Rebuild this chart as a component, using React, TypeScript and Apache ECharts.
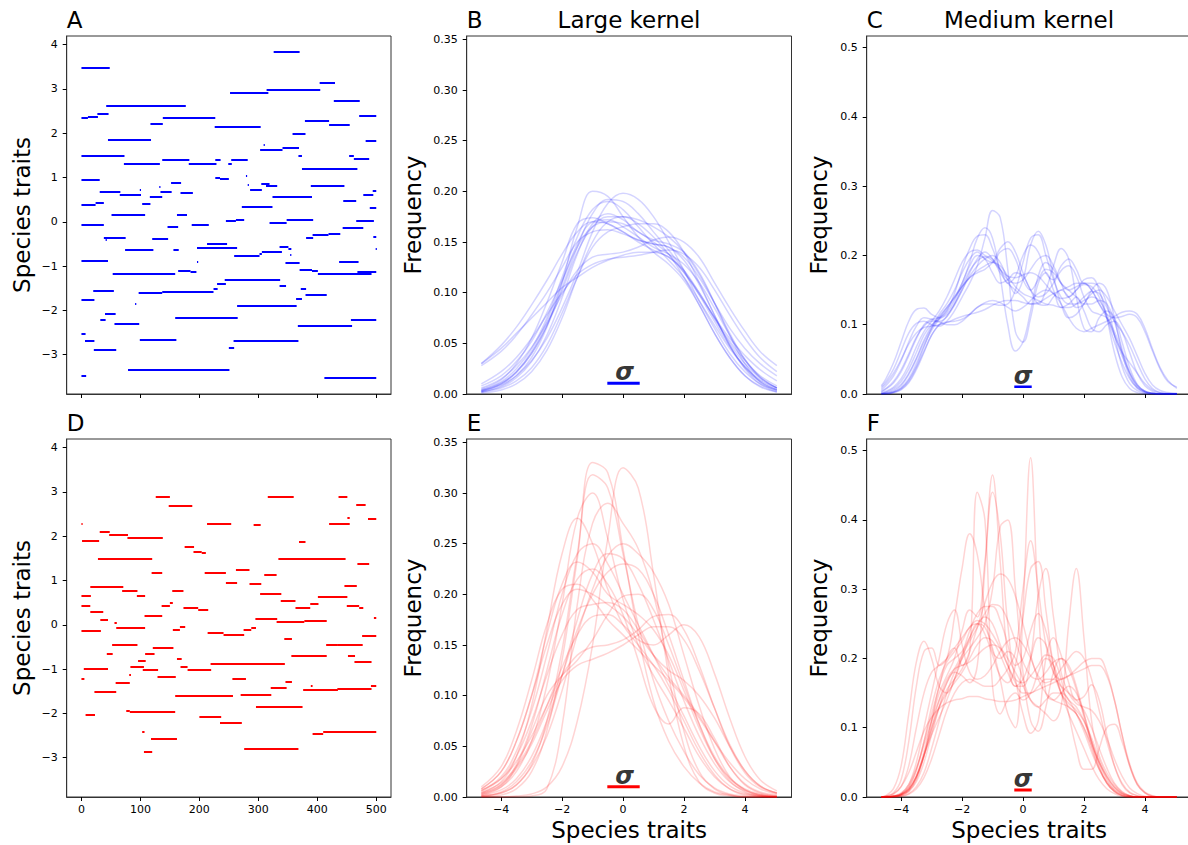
import React, { useEffect, useRef } from "react";
import * as echarts from "echarts";

const FONT = "DejaVu Sans";

// ---------- Panel A / D : lineage trait segments [tStart, tEnd, trait] ----------
const segA = [
  [0,48,3.47],[326,370,3.83],[0,11,2.35],[11,28,2.37],[27,46,2.43],[42,177,2.61],[117,138,2.21],[138,227,2.35],
  [252,317,2.92],[314,405,2.98],[404,430,3.14],[428,472,2.74],[471,500,2.39],[379,420,2.29],[420,455,2.20],
  [226,304,2.14],[358,380,1.98],[482,500,1.83],[45,118,1.86],[309,311,1.74],[303,341,1.62],[341,369,1.68],
  [0,73,1.49],[72,133,1.32],[137,183,1.41],[182,229,1.30],[227,236,1.40],[249,255,1.32],[254,282,1.41],
  [368,374,1.49],[374,468,1.20],[454,462,1.49],[462,488,1.43],[0,31,0.95],[152,169,0.89],[227,235,1.00],
  [235,250,0.97],[279,281,1.05],[282,284,0.83],[286,306,0.73],[305,319,0.86],[313,332,0.81],[389,446,0.82],
  [31,66,0.69],[65,101,0.61],[99,101,0.72],[132,134,0.80],[116,137,0.56],[134,153,0.69],[168,189,0.66],
  [324,391,0.56],[444,466,0.47],[478,495,0.62],[494,500,0.71],[489,500,0.31],[0,24,0.38],[24,38,0.42],
  [103,117,0.41],[51,108,0.17],[162,179,0.17],[272,324,0.33],[0,38,-0.06],[146,164,-0.12],[187,216,-0.06],
  [245,262,0.02],[262,276,0.04],[319,348,-0.02],[348,393,0.05],[466,496,0.02],[443,478,-0.13],[38,75,-0.35],
  [41,43,-0.41],[120,147,-0.38],[74,122,-0.62],[156,165,-0.64],[196,264,-0.59],[213,247,-0.50],[259,302,-0.77],
  [302,306,-0.73],[306,340,-0.67],[336,351,-0.56],[351,356,-0.60],[354,356,-0.74],[381,393,-0.36],[392,419,-0.30],
  [419,439,-0.26],[495,500,-0.34],[499,501,-0.61],[0,45,-0.88],[196,198,-0.91],[53,159,-1.17],[164,185,-1.11],
  [185,195,-1.13],[243,337,-1.31],[346,370,-0.92],[370,391,-1.08],[391,401,-1.11],[401,492,-1.17],[437,470,-0.91],
  [468,500,-1.13],[336,347,-1.45],[230,245,-1.40],[224,231,-1.50],[97,137,-1.59],[137,224,-1.58],[20,55,-1.56],
  [0,22,-1.77],[91,93,-1.86],[372,381,-1.50],[364,374,-1.74],[380,416,-1.65],[264,365,-1.89],[40,58,-2.08],
  [32,41,-2.20],[56,98,-2.31],[159,265,-2.17],[367,459,-2.35],[457,500,-2.20],[0,7,-2.53],[6,22,-2.69],
  [21,59,-2.89],[99,161,-2.67],[250,259,-2.85],[258,368,-2.69],[79,251,-3.35],[0,8,-3.47],[412,500,-3.52]
];

const segD = [
  [0,2,2.28],[1,30,1.89],[31,48,2.11],[47,79,2.04],[78,138,1.96],[126,150,2.89],[148,188,2.68],[28,120,1.50],
  [175,191,1.76],[190,204,1.64],[204,211,1.62],[213,254,2.29],[292,304,2.26],[316,360,2.90],[436,451,2.90],
  [466,482,2.71],[451,455,2.42],[420,455,2.28],[486,500,2.39],[369,380,1.87],[334,448,1.50],[468,488,1.38],
  [119,137,1.17],[209,245,1.18],[262,285,1.24],[310,331,1.12],[245,264,0.96],[285,305,0.92],[446,467,0.88],
  [15,71,0.87],[69,95,0.78],[154,173,0.78],[94,108,0.66],[0,16,0.66],[303,339,0.70],[401,451,0.63],[0,15,0.44],
  [15,37,0.30],[136,150,0.44],[150,155,0.50],[173,198,0.38],[198,215,0.34],[338,363,0.54],[363,388,0.39],
  [388,402,0.48],[450,471,0.43],[471,478,0.39],[107,137,0.20],[32,45,0.11],[56,60,0.05],[0,33,-0.13],
  [59,108,-0.07],[155,167,-0.11],[167,176,-0.04],[295,332,0.14],[331,378,0.06],[378,416,0.09],[496,500,0.17],
  [214,241,-0.17],[241,276,-0.23],[275,288,-0.10],[288,296,-0.07],[344,357,-0.32],[476,500,-0.24],[52,95,-0.46],
  [121,156,-0.52],[415,435,-0.44],[435,477,-0.44],[43,53,-0.66],[108,124,-0.66],[96,109,-0.81],[162,170,-0.77],
  [356,416,-0.70],[452,464,-0.70],[463,492,-0.84],[4,45,-0.99],[83,106,-0.95],[104,130,-1.01],[168,180,-0.94],
  [180,220,-1.01],[219,345,-0.87],[0,5,-1.22],[81,84,-1.13],[58,82,-1.31],[129,160,-1.18],[256,279,-1.21],
  [22,59,-1.52],[159,257,-1.61],[270,322,-1.58],[321,348,-1.43],[346,357,-1.28],[389,392,-1.37],[376,435,-1.47],
  [434,492,-1.44],[491,500,-1.37],[296,375,-1.85],[7,23,-2.03],[76,82,-1.93],[82,159,-1.96],[200,237,-2.07],
  [235,272,-2.21],[103,107,-2.41],[118,162,-2.58],[106,120,-2.86],[276,368,-2.80],[392,410,-2.45],[410,500,-2.41]
];

// ---------- Large kernel curves (B / E) ----------
const largeX = [-4.65,-4,-3.5,-3,-2.5,-2,-1.5,-1,-0.5,0,0.5,1,1.5,2,2.5,3,3.5,4,4.5,5.05];

const curvesB = [
  [0.030,0.045,0.060,0.075,0.090,0.105,0.115,0.125,0.132,0.137,0.140,0.140,0.135,0.120,0.100,0.075,0.052,0.033,0.018,0.008],
  [0.030,0.048,0.066,0.088,0.112,0.138,0.160,0.170,0.168,0.160,0.150,0.142,0.135,0.122,0.100,0.075,0.050,0.030,0.016,0.006],
  [0.028,0.042,0.058,0.078,0.100,0.125,0.150,0.160,0.162,0.158,0.152,0.148,0.145,0.135,0.115,0.090,0.065,0.045,0.030,0.018],
  [0.005,0.014,0.030,0.055,0.090,0.130,0.168,0.174,0.168,0.160,0.152,0.148,0.145,0.132,0.108,0.078,0.048,0.025,0.010,0.003],
  [0.002,0.008,0.018,0.036,0.066,0.110,0.165,0.200,0.195,0.175,0.155,0.140,0.128,0.112,0.088,0.060,0.036,0.018,0.007,0.002],
  [0.003,0.009,0.018,0.033,0.055,0.085,0.120,0.160,0.188,0.198,0.192,0.175,0.150,0.122,0.092,0.065,0.040,0.022,0.010,0.004],
  [0.004,0.012,0.025,0.045,0.075,0.115,0.155,0.182,0.190,0.182,0.165,0.148,0.132,0.115,0.092,0.068,0.045,0.027,0.014,0.006],
  [0.006,0.015,0.028,0.046,0.070,0.098,0.122,0.135,0.138,0.140,0.145,0.152,0.155,0.150,0.135,0.110,0.085,0.062,0.042,0.028],
  [0.002,0.006,0.013,0.026,0.048,0.080,0.115,0.145,0.160,0.165,0.168,0.168,0.160,0.140,0.110,0.078,0.048,0.026,0.012,0.004],
  [0.003,0.010,0.022,0.042,0.072,0.110,0.148,0.170,0.172,0.165,0.155,0.145,0.138,0.128,0.110,0.085,0.058,0.034,0.017,0.006],
  [0.008,0.018,0.032,0.052,0.080,0.112,0.145,0.165,0.170,0.168,0.160,0.150,0.138,0.120,0.098,0.076,0.055,0.038,0.024,0.013],
  [0.004,0.011,0.022,0.040,0.067,0.102,0.140,0.165,0.175,0.175,0.168,0.155,0.138,0.115,0.088,0.060,0.036,0.018,0.008,0.002],
  [0.010,0.022,0.036,0.055,0.078,0.100,0.118,0.128,0.133,0.135,0.137,0.140,0.142,0.138,0.125,0.103,0.078,0.055,0.036,0.022],
  [0.002,0.007,0.016,0.032,0.058,0.095,0.138,0.168,0.178,0.172,0.160,0.152,0.148,0.140,0.120,0.090,0.058,0.030,0.012,0.004],
  [0.003,0.010,0.021,0.040,0.068,0.105,0.145,0.178,0.192,0.190,0.178,0.160,0.142,0.122,0.098,0.072,0.047,0.027,0.013,0.005],
  [0.001,0.004,0.010,0.022,0.043,0.075,0.115,0.150,0.170,0.175,0.172,0.165,0.155,0.140,0.118,0.090,0.060,0.034,0.016,0.006]
];

const curvesE = [
  [0.000,0.002,0.008,0.025,0.065,0.135,0.235,0.330,0.320,0.245,0.160,0.095,0.055,0.030,0.014,0.005,0.002,0.000,0.000,0.000],
  [0.001,0.004,0.012,0.032,0.075,0.145,0.240,0.318,0.305,0.240,0.170,0.115,0.075,0.045,0.022,0.009,0.003,0.001,0.000,0.000],
  [0.003,0.010,0.025,0.055,0.110,0.190,0.275,0.300,0.255,0.195,0.150,0.120,0.095,0.068,0.040,0.020,0.008,0.003,0.001,0.000],
  [0.000,0.000,0.001,0.003,0.010,0.030,0.075,0.150,0.255,0.325,0.305,0.220,0.120,0.050,0.015,0.004,0.001,0.000,0.000,0.000],
  [0.000,0.000,0.000,0.001,0.008,0.070,0.190,0.270,0.290,0.270,0.245,0.200,0.130,0.065,0.025,0.008,0.002,0.000,0.000,0.000],
  [0.004,0.015,0.040,0.090,0.165,0.240,0.275,0.250,0.205,0.170,0.150,0.130,0.105,0.075,0.045,0.022,0.008,0.002,0.001,0.000],
  [0.006,0.020,0.045,0.085,0.140,0.200,0.240,0.250,0.230,0.200,0.170,0.140,0.110,0.080,0.050,0.026,0.011,0.004,0.001,0.000],
  [0.001,0.004,0.012,0.030,0.060,0.105,0.160,0.205,0.238,0.250,0.240,0.222,0.190,0.140,0.090,0.048,0.020,0.007,0.002,0.000],
  [0.008,0.025,0.055,0.100,0.160,0.210,0.232,0.222,0.200,0.190,0.180,0.165,0.140,0.105,0.068,0.038,0.018,0.007,0.002,0.001],
  [0.007,0.018,0.035,0.060,0.090,0.120,0.140,0.148,0.150,0.155,0.165,0.178,0.180,0.165,0.130,0.088,0.050,0.024,0.010,0.004],
  [0.005,0.014,0.030,0.055,0.090,0.128,0.160,0.178,0.180,0.170,0.155,0.150,0.160,0.170,0.158,0.122,0.078,0.040,0.017,0.006],
  [0.003,0.012,0.032,0.070,0.125,0.180,0.215,0.225,0.210,0.180,0.135,0.090,0.072,0.088,0.082,0.058,0.030,0.012,0.004,0.001],
  [0.008,0.025,0.055,0.100,0.150,0.190,0.205,0.200,0.190,0.178,0.160,0.140,0.125,0.115,0.100,0.078,0.050,0.026,0.011,0.004],
  [0.002,0.007,0.018,0.040,0.075,0.120,0.165,0.200,0.222,0.230,0.225,0.200,0.160,0.115,0.072,0.038,0.016,0.005,0.001,0.000],
  [0.006,0.018,0.040,0.075,0.120,0.160,0.185,0.190,0.192,0.185,0.165,0.140,0.118,0.100,0.080,0.055,0.030,0.013,0.005,0.002],
  [0.004,0.012,0.028,0.052,0.085,0.115,0.130,0.136,0.142,0.150,0.160,0.168,0.168,0.155,0.125,0.088,0.052,0.026,0.011,0.004],
  [0.010,0.030,0.065,0.115,0.170,0.205,0.210,0.195,0.175,0.160,0.145,0.130,0.115,0.098,0.078,0.055,0.034,0.018,0.008,0.003],
  [0.001,0.005,0.015,0.035,0.070,0.120,0.175,0.220,0.240,0.235,0.210,0.175,0.135,0.095,0.060,0.033,0.015,0.006,0.002,0.000],
  [0.002,0.010,0.030,0.065,0.100,0.120,0.135,0.155,0.180,0.198,0.200,0.185,0.150,0.110,0.072,0.040,0.019,0.008,0.003,0.001]
];

// ---------- Medium kernel curves (C / F) ----------
const mediumX = [-4.65,-4.5,-4.25,-4,-3.75,-3.5,-3.25,-3,-2.75,-2.5,-2.25,-2,-1.75,-1.5,-1.25,-1,-0.75,-0.5,-0.25,0,
  0.25,0.5,0.75,1,1.25,1.5,1.75,2,2.25,2.5,2.75,3,3.25,3.5,3.75,4,4.25,4.5,4.75,5.05];

const curvesC = [
  [0.012,0.022,0.045,0.075,0.105,0.122,0.124,0.115,0.110,0.118, 0.135,0.160,0.185,0.200,0.195,0.175,0.160,0.165,0.175,0.170,
   0.150,0.130,0.128,0.140,0.150,0.140,0.125,0.130,0.150,0.160, 0.150,0.110,0.060,0.025,0.008,0.002,0.000,0,0,0],
  [0.010,0.018,0.036,0.062,0.088,0.102,0.105,0.100,0.098,0.105, 0.120,0.140,0.160,0.185,0.225,0.265,0.255,0.180,0.090,0.075,
   0.110,0.160,0.175,0.150,0.125,0.130,0.140,0.120,0.095,0.090, 0.100,0.105,0.090,0.060,0.030,0.012,0.004,0.001,0,0],
  [0.000,0.001,0.003,0.008,0.020,0.040,0.068,0.095,0.115,0.130, 0.150,0.175,0.195,0.205,0.195,0.190,0.205,0.210,0.195,0.165,
   0.150,0.165,0.180,0.175,0.160,0.150,0.140,0.130,0.130,0.135, 0.130,0.105,0.065,0.030,0.010,0.003,0.001,0,0,0],
  [0.000,0.000,0.002,0.006,0.016,0.035,0.060,0.085,0.100,0.104, 0.105,0.108,0.115,0.125,0.130,0.130,0.128,0.130,0.150,0.190,
   0.225,0.230,0.200,0.165,0.140,0.130,0.130,0.135,0.140,0.135, 0.115,0.085,0.060,0.045,0.030,0.015,0.006,0.002,0.001,0],
  [0.004,0.008,0.018,0.035,0.058,0.082,0.098,0.105,0.104,0.100, 0.100,0.105,0.115,0.125,0.132,0.135,0.132,0.125,0.120,0.125,
   0.135,0.145,0.150,0.145,0.130,0.110,0.095,0.090,0.095,0.100, 0.105,0.112,0.118,0.120,0.115,0.095,0.065,0.038,0.020,0.008],
  [0.002,0.004,0.010,0.022,0.042,0.068,0.090,0.105,0.120,0.140, 0.165,0.190,0.205,0.208,0.200,0.195,0.180,0.160,0.170,0.200,
   0.215,0.205,0.175,0.165,0.185,0.195,0.180,0.160,0.160,0.155, 0.130,0.085,0.040,0.015,0.005,0.001,0,0,0,0],
  [0.000,0.001,0.004,0.012,0.028,0.050,0.075,0.095,0.110,0.125, 0.140,0.160,0.190,0.225,0.240,0.225,0.170,0.100,0.062,0.075,
   0.120,0.170,0.190,0.180,0.160,0.150,0.155,0.160,0.150,0.130, 0.110,0.085,0.055,0.030,0.012,0.004,0.001,0,0,0],
  [0.001,0.003,0.008,0.018,0.036,0.060,0.085,0.100,0.108,0.115, 0.130,0.150,0.170,0.185,0.195,0.200,0.190,0.165,0.145,0.165,
   0.215,0.235,0.215,0.170,0.130,0.110,0.115,0.130,0.145,0.150, 0.140,0.120,0.100,0.080,0.055,0.030,0.013,0.005,0.002,0.001],
  [0.000,0.000,0.002,0.007,0.018,0.038,0.062,0.085,0.100,0.112, 0.128,0.150,0.175,0.195,0.205,0.195,0.175,0.160,0.150,0.140,
   0.130,0.130,0.150,0.185,0.210,0.195,0.140,0.095,0.090,0.110, 0.120,0.110,0.075,0.038,0.014,0.004,0.001,0,0,0],
  [0.008,0.015,0.030,0.050,0.072,0.088,0.096,0.098,0.100,0.103, 0.108,0.112,0.115,0.118,0.122,0.128,0.133,0.135,0.135,0.132,
   0.130,0.132,0.138,0.145,0.150,0.155,0.160,0.160,0.150,0.130, 0.115,0.110,0.112,0.115,0.110,0.090,0.062,0.036,0.018,0.010],
  [0.003,0.007,0.016,0.032,0.055,0.080,0.100,0.108,0.110,0.120, 0.145,0.180,0.210,0.228,0.230,0.210,0.180,0.165,0.160,0.165,
   0.180,0.195,0.200,0.185,0.160,0.140,0.150,0.165,0.168,0.150, 0.110,0.060,0.025,0.008,0.002,0,0,0,0,0],
  [0.001,0.002,0.006,0.014,0.030,0.052,0.078,0.098,0.112,0.125, 0.140,0.155,0.168,0.178,0.185,0.190,0.185,0.170,0.155,0.145,
   0.140,0.135,0.130,0.128,0.125,0.125,0.130,0.140,0.148,0.145, 0.125,0.105,0.090,0.070,0.045,0.022,0.008,0.002,0,0],
  [0.006,0.012,0.026,0.048,0.075,0.098,0.110,0.108,0.105,0.112, 0.130,0.155,0.178,0.192,0.198,0.192,0.180,0.170,0.168,0.172,
   0.175,0.170,0.158,0.145,0.138,0.140,0.150,0.158,0.155,0.140, 0.110,0.075,0.045,0.022,0.009,0.003,0.001,0,0,0],
  [0,0.001,0.003,0.009,0.022,0.044,0.070,0.092,0.108,0.122, 0.138,0.155,0.168,0.175,0.180,0.190,0.210,0.220,0.205,0.175,
   0.150,0.140,0.145,0.160,0.178,0.185,0.170,0.140,0.120,0.115, 0.110,0.090,0.060,0.032,0.013,0.004,0.001,0,0,0]
];

const curvesF = [
  [0,0,0,0.002,0.008,0.025,0.060,0.110,0.160,0.190, 0.200,0.210,0.230,0.250,0.245,0.215,0.170,0.120,0.100,0.270,
   0.490,0.280,0.150,0.140,0.150,0.160,0.150,0.120,0.080,0.050, 0.030,0.015,0.006,0.002,0,0,0,0,0,0],
  [0,0,0.001,0.004,0.015,0.040,0.080,0.120,0.160,0.200, 0.215,0.190,0.210,0.440,0.400,0.160,0.120,0.140,0.150,0.140,
   0.150,0.180,0.200,0.190,0.160,0.140,0.130,0.110,0.080,0.050, 0.025,0.010,0.003,0.001,0,0,0,0,0,0],
  [0,0,0,0.002,0.008,0.022,0.050,0.090,0.130,0.165, 0.180,0.175,0.165,0.190,0.330,0.465,0.340,0.200,0.160,0.170,
   0.200,0.230,0.220,0.180,0.150,0.130,0.120,0.100,0.070,0.040, 0.020,0.008,0.002,0,0,0,0,0,0,0],
  [0,0,0.001,0.003,0.010,0.030,0.065,0.110,0.150,0.175, 0.200,0.240,0.270,0.260,0.340,0.440,0.380,0.250,0.190,0.200,
   0.240,0.265,0.240,0.190,0.150,0.120,0.095,0.070,0.045,0.025, 0.012,0.005,0.001,0,0,0,0,0,0,0],
  [0,0,0,0.001,0.005,0.015,0.035,0.070,0.110,0.150, 0.180,0.200,0.215,0.230,0.250,0.300,0.390,0.400,0.300,0.180,
   0.110,0.095,0.130,0.180,0.200,0.190,0.160,0.120,0.080,0.045, 0.020,0.008,0.002,0,0,0,0,0,0,0],
  [0,0.001,0.006,0.025,0.080,0.160,0.210,0.215,0.190,0.200, 0.260,0.330,0.380,0.350,0.270,0.210,0.200,0.210,0.200,0.170,
   0.140,0.130,0.140,0.150,0.150,0.140,0.120,0.095,0.065,0.040, 0.022,0.010,0.004,0.001,0,0,0,0,0,0],
  [0,0,0.001,0.003,0.010,0.028,0.060,0.100,0.140,0.170, 0.185,0.190,0.195,0.205,0.215,0.220,0.215,0.200,0.180,0.160,
   0.140,0.130,0.120,0.110,0.130,0.250,0.330,0.230,0.110,0.060, 0.035,0.018,0.007,0.002,0,0,0,0,0,0],
  [0,0,0.001,0.004,0.012,0.030,0.060,0.095,0.130,0.155, 0.170,0.185,0.210,0.245,0.280,0.310,0.322,0.315,0.290,0.250,
   0.205,0.170,0.150,0.140,0.135,0.130,0.120,0.100,0.075,0.050, 0.028,0.013,0.005,0.001,0,0,0,0,0,0],
  [0,0,0,0.001,0.004,0.012,0.028,0.055,0.090,0.125, 0.150,0.165,0.170,0.165,0.160,0.160,0.170,0.185,0.210,0.300,
   0.370,0.300,0.220,0.180,0.170,0.175,0.185,0.195,0.200,0.200, 0.180,0.140,0.090,0.048,0.020,0.007,0.002,0,0,0],
  [0,0,0.001,0.003,0.010,0.028,0.060,0.100,0.130,0.150, 0.165,0.180,0.200,0.220,0.230,0.225,0.205,0.180,0.160,0.160,
   0.200,0.290,0.330,0.260,0.180,0.150,0.135,0.130,0.125,0.110, 0.085,0.055,0.030,0.013,0.005,0.001,0,0,0,0],
  [0,0.001,0.005,0.015,0.035,0.065,0.095,0.115,0.128,0.136, 0.140,0.142,0.145,0.145,0.142,0.140,0.138,0.138,0.140,0.145,
   0.150,0.155,0.160,0.165,0.170,0.175,0.180,0.185,0.190,0.190, 0.175,0.140,0.090,0.045,0.018,0.006,0.001,0,0,0],
  [0,0,0.001,0.004,0.012,0.030,0.060,0.090,0.115,0.140, 0.170,0.205,0.240,0.265,0.275,0.275,0.255,0.220,0.170,0.120,
   0.092,0.110,0.200,0.230,0.205,0.165,0.140,0.145,0.162,0.140, 0.090,0.045,0.018,0.006,0.002,0,0,0,0,0],
  [0,0.001,0.004,0.015,0.045,0.100,0.150,0.180,0.190,0.200, 0.215,0.230,0.245,0.255,0.250,0.235,0.215,0.190,0.170,0.165,
   0.175,0.190,0.205,0.200,0.170,0.120,0.070,0.040,0.040,0.070, 0.100,0.105,0.080,0.045,0.018,0.006,0.001,0,0,0],
  [0,0,0.001,0.005,0.018,0.050,0.100,0.150,0.200,0.250, 0.270,0.220,0.180,0.170,0.175,0.190,0.210,0.225,0.230,0.220,
   0.200,0.175,0.165,0.170,0.185,0.200,0.210,0.200,0.170,0.125, 0.080,0.045,0.020,0.007,0.002,0,0,0,0,0],
  [0,0,0.001,0.004,0.014,0.038,0.080,0.130,0.170,0.195, 0.210,0.225,0.245,0.250,0.235,0.205,0.175,0.165,0.190,0.260,
   0.330,0.340,0.270,0.190,0.150,0.135,0.125,0.110,0.085,0.055, 0.030,0.014,0.005,0.001,0,0,0,0,0,0],
  [0,0.002,0.012,0.045,0.120,0.195,0.225,0.200,0.160,0.150, 0.170,0.200,0.230,0.250,0.260,0.250,0.220,0.190,0.165,0.150,
   0.150,0.160,0.170,0.170,0.160,0.150,0.140,0.125,0.100,0.070, 0.042,0.020,0.008,0.002,0,0,0,0,0,0],
  [0,0,0.002,0.006,0.018,0.042,0.075,0.110,0.140,0.165, 0.185,0.205,0.225,0.245,0.265,0.278,0.275,0.255,0.225,0.195,
   0.175,0.170,0.180,0.195,0.200,0.185,0.155,0.115,0.075,0.042, 0.020,0.008,0.002,0,0,0,0,0,0,0]
];

// kernel-width bars: [xStart, xEnd, y] and sigma label position [x, y]
const sigmaBarB = [-0.515, 0.548, 0.0106];
const sigmaBarC = [-0.286, 0.286, 0.0105];
const sigmaBarE = [-0.515, 0.548, 0.0102];
const sigmaBarF = [-0.286, 0.286, 0.0101];
const sigmaTextB = [0.05, 0.0217];
const sigmaTextC = [0.0, 0.0267];
const sigmaTextE = [0.05, 0.0212];
const sigmaTextF = [0.0, 0.026];

const timeTicks = [0, 100, 200, 300, 400, 500];
const traitTicks = [-3, -2, -1, 0, 1, 2, 3, 4];
const kdeXTicks = [-4, -2, 0, 2, 4];
const freqTicksLarge = [0, 0.05, 0.1, 0.15, 0.2, 0.25, 0.3, 0.35];
const freqTicksMedium = [0, 0.1, 0.2, 0.3, 0.4, 0.5];

const BLUE = "#0000ff";
const RED = "#ff0000";
const BLUE_A = "rgba(0,0,255,0.17)";
const RED_A = "rgba(255,0,0,0.17)";

const fmtMinus = (v: number) => (v < 0 ? "\u2212" + Math.abs(v) : String(v));

export default function App() {
  const ref = useRef<HTMLDivElement>(null);
  useEffect(() => {
    if (!ref.current) return;
    const chart = echarts.init(ref.current, undefined, { renderer: "svg" });

    const grids = [
      { left: 66.7, top: 36, width: 324.3, height: 358 },
      { left: 466.7, top: 36, width: 324.8, height: 358 },
      { left: 866.7, top: 36, width: 324.8, height: 358 },
      { left: 66.7, top: 439, width: 324.3, height: 358 },
      { left: 466.7, top: 439, width: 324.8, height: 358 },
      { left: 866.7, top: 439, width: 324.8, height: 358 },
    ].map((g) => ({
      ...g,
      show: true,
      borderColor: "#333",
      borderWidth: 1,
      backgroundColor: "transparent",
      containLabel: false,
      outerBoundsMode: "none",
    }));

    const tickStyle = { show: true, inside: false, length: 4, lineStyle: { color: "#000", width: 1 } };
    const labelStyle = { color: "#000", fontSize: 11, fontFamily: FONT };
    const nameStyle = { color: "#000", fontSize: 23, fontFamily: FONT };

    const mkX = (gi: number, kind: "time" | "kde", showLabels: boolean, name?: string) => ({
      type: "value",
      gridIndex: gi,
      min: kind === "time" ? -25 : -5.13,
      max: kind === "time" ? 525 : 5.53,
      axisLine: { show: true, onZero: false, lineStyle: { color: "#333", width: 1 } },
      axisTick: { ...tickStyle, customValues: kind === "time" ? timeTicks : kdeXTicks },
      axisLabel: {
        show: showLabels,
        ...labelStyle,
        margin: 7,
        customValues: kind === "time" ? timeTicks : kdeXTicks,
        formatter: (v: number) => fmtMinus(v),
      },
      splitLine: { show: false },
      name: name || "",
      nameLocation: "middle",
      nameGap: 21,
      nameTextStyle: nameStyle,
    });

    const mkY = (gi: number, kind: "trait" | "large" | "medium", name: string, gap: number) => {
      const ticks = kind === "trait" ? traitTicks : kind === "large" ? freqTicksLarge : freqTicksMedium;
      return {
        type: "value",
        gridIndex: gi,
        min: kind === "trait" ? -3.887 : 0,
        max: kind === "trait" ? 4.195 : kind === "large" ? 0.3533 : 0.5169,
        axisLine: { show: true, onZero: false, lineStyle: { color: "#333", width: 1 } },
        axisTick: { ...tickStyle, customValues: ticks },
        axisLabel: {
          show: true,
          ...labelStyle,
          margin: 9,
          customValues: ticks,
          formatter: (v: number) =>
            kind === "trait" ? fmtMinus(v) : kind === "large" ? v.toFixed(2) : v.toFixed(1),
        },
        splitLine: { show: false },
        name,
        nameLocation: "middle",
        nameGap: gap,
        nameTextStyle: nameStyle,
      };
    };

    const series: any[] = [];

    const segSeries = (seg: number[][], gi: number, color: string) => ({
      type: "lines",
      coordinateSystem: "cartesian2d",
      xAxisIndex: gi,
      yAxisIndex: gi,
      silent: true,
      polyline: false,
      data: seg.map((s) => ({ coords: [[s[0], s[2]], [s[1], s[2]]] })),
      lineStyle: { color, width: 2, opacity: 1, cap: "butt" },
      z: 3,
    });
    series.push(segSeries(segA, 0, BLUE));
    series.push(segSeries(segD, 3, RED));

    const addCurves = (curves: number[][], xs: number[], gi: number, color: string, smooth: number) => {
      curves.forEach((c) => {
        series.push({
          type: "line",
          xAxisIndex: gi,
          yAxisIndex: gi,
          silent: true,
          symbol: "none",
          showSymbol: false,
          smooth,
          data: xs.map((x, i) => [x, c[i]]),
          lineStyle: { color, width: 1.5 },
          z: 2,
        });
      });
    };
    addCurves(curvesB, largeX, 1, BLUE_A, 0.4);
    addCurves(curvesC, mediumX, 2, BLUE_A, 0.4);
    addCurves(curvesE, largeX, 4, RED_A, 0.4);
    addCurves(curvesF, mediumX, 5, RED_A, 0.4);

    const addSigma = (bar: number[], txt: number[], gi: number, color: string, w: number) => {
      series.push({
        type: "line",
        xAxisIndex: gi,
        yAxisIndex: gi,
        silent: true,
        symbol: "none",
        data: [[bar[0], bar[2]], [bar[1], bar[2]]],
        lineStyle: { color, width: w, cap: "butt" },
        z: 5,
      });
      series.push({
        type: "scatter",
        xAxisIndex: gi,
        yAxisIndex: gi,
        silent: true,
        symbolSize: 1,
        itemStyle: { color: "rgba(0,0,0,0)" },
        data: [txt],
        label: {
          show: true,
          position: "inside",
          formatter: "\u03c3",
          color: "#000",
          textBorderWidth: 0,
          fontSize: 24,
          fontStyle: "italic",
          fontWeight: "bold",
          fontFamily: FONT,
        },
        z: 6,
      });
    };
    addSigma(sigmaBarB, sigmaTextB, 1, BLUE, 3);
    addSigma(sigmaBarC, sigmaTextC, 2, BLUE, 2.5);
    addSigma(sigmaBarE, sigmaTextE, 4, RED, 3);
    addSigma(sigmaBarF, sigmaTextF, 5, RED, 3);

    const txt = (text: string, x: number, y: number, align: string) => ({
      type: "text",
      x,
      y,
      silent: true,
      style: {
        text,
        fill: "#000",
        fontSize: 23,
        fontFamily: FONT,
        align,
        textAlign: align,
        verticalAlign: "middle",
        textVerticalAlign: "middle",
      },
    });

    chart.setOption({
      animation: false,
      backgroundColor: "#fff",
      grid: grids,
      xAxis: [
        mkX(0, "time", false),
        mkX(1, "kde", false),
        mkX(2, "kde", false),
        mkX(3, "time", true),
        mkX(4, "kde", true, "Species traits"),
        mkX(5, "kde", true, "Species traits"),
      ],
      yAxis: [
        mkY(0, "trait", "Species traits", 33),
        mkY(1, "large", "Frequency", 42),
        mkY(2, "medium", "Frequency", 36),
        mkY(3, "trait", "Species traits", 33),
        mkY(4, "large", "Frequency", 42),
        mkY(5, "medium", "Frequency", 36),
      ],
      series,
      graphic: [
        txt("A", 66.7, 20, "left"),
        txt("B", 466.7, 20, "left"),
        txt("C", 866.7, 20, "left"),
        txt("D", 66.7, 423.4, "left"),
        txt("E", 466.7, 423.4, "left"),
        txt("F", 866.7, 423.4, "left"),
        txt("Large kernel", 629, 20, "center"),
        txt("Medium kernel", 1029, 20, "center"),
      ],
    });

    return () => chart.dispose();
  }, []);

  return (
    <div
      ref={ref}
      style={{ position: "fixed", left: 0, top: 0, width: 1188, height: 845, background: "#fff" }}
    />
  );
}
